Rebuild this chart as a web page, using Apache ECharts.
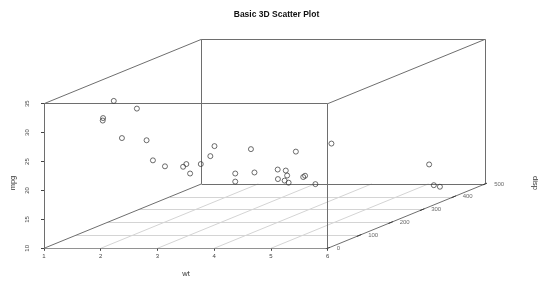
<!DOCTYPE html>
<html><head><meta charset="utf-8">
<script src="https://cdn.jsdelivr.net/npm/echarts@6/dist/echarts.min.js"></script>
<style>html,body{margin:0;padding:0;background:#fff}#c{width:553px;height:294px}</style>
</head><body><div id="c"></div>
<script>
// ---- data (mtcars) ----
const carWt = [2.620,2.875,2.320,3.215,3.440,3.460,3.570,3.190,3.150,3.440,3.440,4.070,3.730,3.780,5.250,5.424,5.345,2.200,1.615,1.835,2.465,3.520,3.435,3.840,3.845,1.935,2.140,1.513,3.170,2.770,3.570,2.780];
const carDisp = [160,160,108,258,360,225,360,146.7,140.8,167.6,167.6,275.8,275.8,275.8,472,460,440,78.7,75.7,71.1,120.1,318,304,350,400,79,120.3,95.1,351,145,301,121];
const carMpg = [21,21,22.8,21.4,18.7,18.1,14.3,24.4,22.8,19.2,17.8,16.4,17.3,15.2,10.4,10.4,14.7,32.4,30.4,33.9,21.5,15.5,15.2,13.3,19.2,27.3,26,30.4,15.8,19.7,15,21.4];
const wtTicks = [1,2,3,4,5,6];
const mpgTicks = [10,15,20,25,30,35];
const dispTicks = [0,100,200,300,400,500];
const dispGrid = [100,200,300,400];
const wtGrid = [2,3,4,5];

// ---- layout ----
const FRONT_L = 44, FRONT_R = 327.7, FRONT_T = 103.7, FRONT_B = 248.3;
const DEPTH_X = 157.5, DEPTH_Y = 64.4;
const WT_MIN = 1, WT_MAX = 6, MPG_MIN = 10, MPG_MAX = 35, DISP_MIN = 0, DISP_MAX = 500;
const pxPerWt = (FRONT_R - FRONT_L) / (WT_MAX - WT_MIN);
const pxPerMpg = (FRONT_B - FRONT_T) / (MPG_MAX - MPG_MIN);
const KX = DEPTH_X / pxPerWt / (DISP_MAX - DISP_MIN);
const KY = DEPTH_Y / pxPerMpg / (DISP_MAX - DISP_MIN);
function proj(w, d, m) { return [w + (d - DISP_MIN) * KX, m + (d - DISP_MIN) * KY]; }

const FONT = 'Liberation Sans, Arial, sans-serif';

// box edges
const C = (w, d, m) => proj(w, d, m);
const boxEdges = [];
[[WT_MIN, DISP_MIN], [WT_MAX, DISP_MIN], [WT_MIN, DISP_MAX], [WT_MAX, DISP_MAX]].forEach(([w, d]) => {
  boxEdges.push({ coords: [C(w, d, MPG_MIN), C(w, d, MPG_MAX)] });
});
[DISP_MIN, DISP_MAX].forEach(d => [MPG_MIN, MPG_MAX].forEach(m => {
  boxEdges.push({ coords: [C(WT_MIN, d, m), C(WT_MAX, d, m)] });
}));
[WT_MIN, WT_MAX].forEach(w => [MPG_MIN, MPG_MAX].forEach(m => {
  boxEdges.push({ coords: [C(w, DISP_MIN, m), C(w, DISP_MAX, m)] });
}));

const gridLines = [];
dispGrid.forEach(d => gridLines.push({ coords: [C(WT_MIN, d, MPG_MIN), C(WT_MAX, d, MPG_MIN)] }));
wtGrid.forEach(w => gridLines.push({ coords: [C(w, DISP_MIN, MPG_MIN), C(w, DISP_MAX, MPG_MIN)] }));

const dispTickMarks = dispTicks.map(d => ({ coords: [C(WT_MAX, d - 7, MPG_MIN), C(WT_MAX, d + 7, MPG_MIN)] }));

const points = carWt.map((w, i) => proj(w, carDisp[i], carMpg[i]));

const chart = echarts.init(document.getElementById('c'), null, { renderer: 'canvas' });
chart.setOption({
  animation: false,
  backgroundColor: '#fff',
  title: {
    text: 'Basic 3D Scatter Plot', left: 'center', top: 10, padding: 0,
    textStyle: { fontFamily: FONT, fontSize: 8.5, fontWeight: 'bold', color: '#111' }
  },
  grid: {
    left: FRONT_L, top: FRONT_T - DEPTH_Y,
    width: FRONT_R - FRONT_L + DEPTH_X, height: FRONT_B - FRONT_T + DEPTH_Y,
    outerBoundsMode: 'none', containLabel: false
  },
  xAxis: {
    type: 'value', min: WT_MIN, max: WT_MAX + (DISP_MAX - DISP_MIN) * KX, interval: 1,
    axisLine: { show: false }, splitLine: { show: false },
    axisTick: { show: true, length: 2.5, customValues: wtTicks, lineStyle: { color: '#444' } },
    axisLabel: { customValues: wtTicks, margin: 5, fontSize: 6, fontFamily: FONT, color: '#444',
      formatter: v => (v <= WT_MAX ? String(v) : '') }
  },
  yAxis: {
    type: 'value', min: MPG_MIN, max: MPG_MAX + (DISP_MAX - DISP_MIN) * KY, interval: 5,
    axisLine: { show: false }, splitLine: { show: false },
    axisTick: { show: true, length: 3, customValues: mpgTicks, lineStyle: { color: '#444' } },
    axisLabel: { customValues: mpgTicks, margin: 14, rotate: 90, fontSize: 6, fontFamily: FONT, color: '#444',
      formatter: v => (v <= MPG_MAX ? String(v) : '') }
  },
  graphic: [
    { type: 'text', x: 186, y: 274, style: { text: 'wt', font: '7.5px ' + FONT, fill: '#333', align: 'center', verticalAlign: 'middle' } },
    { type: 'text', x: 13, y: 183, rotation: Math.PI / 2, style: { text: 'mpg', font: '7.5px ' + FONT, fill: '#333', align: 'center', verticalAlign: 'middle' } },
    { type: 'text', x: 535, y: 183, rotation: -Math.PI / 2, style: { text: 'disp', font: '7.5px ' + FONT, fill: '#333', align: 'center', verticalAlign: 'middle' } }
  ],
  series: [
    { type: 'lines', coordinateSystem: 'cartesian2d', silent: true, z: 1,
      lineStyle: { color: '#d4d4d4', width: 1, opacity: 1 }, data: gridLines },
    { type: 'lines', coordinateSystem: 'cartesian2d', silent: true, z: 2,
      lineStyle: { color: '#6e6e6e', width: 1, opacity: 1 }, data: boxEdges },
    { type: 'lines', coordinateSystem: 'cartesian2d', silent: true, z: 3,
      lineStyle: { color: '#3a3a3a', width: 1, opacity: 1 }, data: dispTickMarks },
    { type: 'scatter', silent: true, z: 3, symbolSize: 0,
      data: dispTicks.map(d => C(WT_MAX, d, MPG_MIN)),
      label: { show: true, position: 'right', distance: 9, fontSize: 6, fontFamily: FONT, color: '#444',
        formatter: p => String(dispTicks[p.dataIndex]) } },
    { type: 'scatter', silent: true, z: 4, symbol: 'circle', symbolSize: 5,
      itemStyle: { color: 'rgba(0,0,0,0)', borderColor: '#333', borderWidth: 0.9 },
      data: points }
  ]
});
</script></body></html>
